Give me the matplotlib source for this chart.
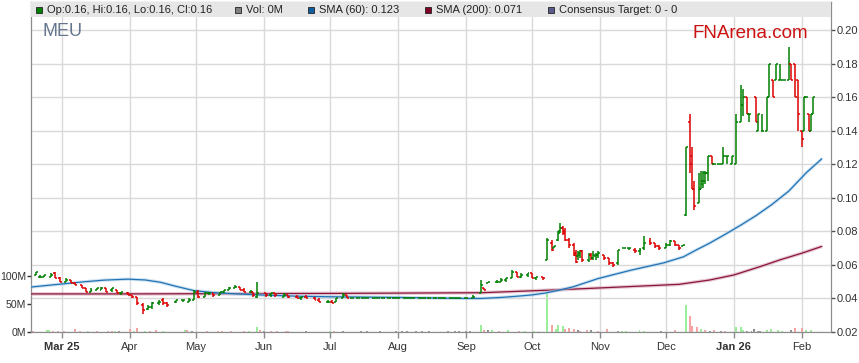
import matplotlib.pyplot as plt
import matplotlib.dates as mdates
import pandas as pd
from matplotlib.collections import LineCollection
from matplotlib.patches import Rectangle

plt.rcParams['font.family'] = ['Liberation Sans', 'DejaVu Sans']

# daily price bars (A$)
dates = [
    '2025-02-17', '2025-02-19', '2025-02-21', '2025-02-24', '2025-02-26', '2025-02-28',
    '2025-03-03', '2025-03-05', '2025-03-07', '2025-03-10', '2025-03-12', '2025-03-14',
    '2025-03-17', '2025-03-19', '2025-03-21', '2025-03-24', '2025-03-26', '2025-03-28',
    '2025-03-31', '2025-04-02', '2025-04-04', '2025-04-07', '2025-04-09', '2025-04-11',
    '2025-04-14', '2025-04-16', '2025-04-18', '2025-04-22', '2025-04-25', '2025-04-28',
    '2025-04-30', '2025-05-02', '2025-05-05', '2025-05-07', '2025-05-09', '2025-05-12',
    '2025-05-14', '2025-05-16', '2025-05-19', '2025-05-21', '2025-05-23', '2025-05-26',
    '2025-05-27', '2025-05-29', '2025-06-02', '2025-06-04', '2025-06-06', '2025-06-10',
    '2025-06-12', '2025-06-16', '2025-06-18', '2025-06-20', '2025-06-24', '2025-06-26',
    '2025-06-30', '2025-07-02', '2025-07-04', '2025-07-07', '2025-07-09', '2025-07-11',
    '2025-07-14', '2025-07-16', '2025-07-18', '2025-07-21', '2025-07-23', '2025-07-25',
    '2025-07-28', '2025-07-30', '2025-08-01', '2025-08-04', '2025-08-06', '2025-08-08',
    '2025-08-11', '2025-08-13', '2025-08-15', '2025-08-18', '2025-08-20', '2025-08-22',
    '2025-08-25', '2025-08-27', '2025-08-29', '2025-09-01', '2025-09-04', '2025-09-08',
    '2025-09-09', '2025-09-11', '2025-09-15', '2025-09-17', '2025-09-19', '2025-09-22',
    '2025-09-24', '2025-09-26', '2025-09-29', '2025-10-01', '2025-10-03', '2025-10-06',
    '2025-10-08', '2025-10-10', '2025-10-11', '2025-10-13', '2025-10-14', '2025-10-15',
    '2025-10-16', '2025-10-18', '2025-10-20', '2025-10-21', '2025-10-22', '2025-10-23',
    '2025-10-24', '2025-10-27', '2025-10-28', '2025-10-29', '2025-10-30', '2025-10-31',
    '2025-11-03', '2025-11-05', '2025-11-07', '2025-11-09', '2025-11-12', '2025-11-14',
    '2025-11-17', '2025-11-19', '2025-11-21', '2025-11-24', '2025-11-26', '2025-11-28',
    '2025-12-01', '2025-12-03', '2025-12-05', '2025-12-07', '2025-12-09', '2025-12-10',
    '2025-12-12', '2025-12-13', '2025-12-14', '2025-12-16', '2025-12-17', '2025-12-18',
    '2025-12-19', '2025-12-20', '2025-12-22', '2025-12-23', '2025-12-25', '2025-12-27',
    '2025-12-29', '2025-12-31', '2026-01-02', '2026-01-04', '2026-01-05', '2026-01-07',
    '2026-01-08', '2026-01-11', '2026-01-12', '2026-01-14', '2026-01-16', '2026-01-17',
    '2026-01-19', '2026-01-20', '2026-01-22', '2026-01-24', '2026-01-26', '2026-01-27',
    '2026-01-29', '2026-01-30', '2026-02-01', '2026-02-02', '2026-02-03', '2026-02-04',
    '2026-02-05', '2026-02-06',
]
opens = [
    .054, .053, .053, .053, .055, .052, .050, .051, .049, .048, .046, .044,
    .045, .045, .046, .045, .045, .043, .043, .042, .041, .036, .034, .035,
    .037, .039, .037, .038, .039, .038, .039, .044, .041, .043, .043, .042,
    .044, .045, .046, .047, .045, .044, .044, .041, .043, .042, .043, .041,
    .042, .041, .040, .041, .040, .039, .038, .038, .038, .040, .042, .040,
    .040, .040, .040, .040, .040, .040, .040, .040, .040, .040, .040, .040,
    .040, .040, .040, .040, .040, .040, .040, .040, .040, .040, .040, .043,
    .046, .049, .050, .050, .051, .052, .056, .053, .054, .055, .052, .053,
    .063, .073, .070, .075, .080, .082, .080, .075, .072, .067, .065, .066,
    .068, .063, .066, .064, .065, .066, .066, .064, .061, .061, .070, .070,
    .069, .068, .070, .074, .073, .071, .070, .072, .074, .072, .071, .090,
    .145, .125, .105, .097, .105, .108, .110, .115, .125, .120, .120, .120,
    .125, .120, .120, .145, .155, .160, .150, .160, .140, .140, .140, .160,
    .170, .170, .170, .170, .170, .180, .180, .170, .140, .140, .160, .150,
    .140, .150,
]
highs = [
    .056, .054, .054, .055, .056, .053, .052, .051, .050, .048, .046, .046,
    .046, .047, .046, .046, .045, .044, .044, .042, .041, .037, .036, .038,
    .039, .040, .038, .039, .039, .040, .045, .045, .044, .044, .043, .044,
    .045, .047, .048, .047, .046, .045, .044, .050, .043, .043, .043, .043,
    .042, .042, .041, .042, .041, .040, .039, .039, .040, .043, .042, .040,
    .040, .040, .040, .040, .040, .040, .040, .040, .040, .040, .040, .040,
    .040, .040, .040, .040, .040, .040, .040, .040, .040, .040, .042, .051,
    .046, .050, .051, .052, .052, .057, .056, .055, .055, .055, .053, .053,
    .076, .075, .071, .080, .085, .083, .082, .076, .073, .069, .068, .069,
    .069, .067, .067, .068, .067, .068, .066, .064, .062, .069, .070, .070,
    .070, .070, .077, .076, .073, .072, .073, .075, .074, .072, .072, .130,
    .150, .130, .110, .115, .116, .116, .116, .125, .125, .120, .120, .130,
    .125, .125, .150, .167, .165, .160, .150, .160, .150, .150, .160, .180,
    .170, .180, .180, .170, .190, .180, .180, .170, .140, .160, .160, .150,
    .150, .160,
]
lows = [
    .054, .052, .053, .053, .052, .050, .050, .049, .048, .046, .044, .044,
    .045, .045, .044, .044, .043, .042, .042, .040, .036, .031, .033, .034,
    .036, .036, .035, .037, .038, .038, .039, .040, .041, .042, .041, .042,
    .043, .045, .046, .045, .044, .043, .041, .040, .041, .041, .041, .041,
    .040, .040, .039, .040, .039, .038, .037, .037, .038, .040, .040, .040,
    .040, .040, .040, .040, .040, .040, .040, .040, .040, .040, .040, .040,
    .040, .040, .040, .040, .040, .040, .040, .040, .040, .040, .040, .043,
    .045, .049, .049, .050, .050, .052, .053, .052, .053, .052, .051, .051,
    .063, .068, .070, .074, .079, .078, .074, .070, .065, .061, .063, .064,
    .062, .062, .063, .063, .063, .064, .063, .060, .059, .060, .070, .069,
    .067, .066, .069, .072, .070, .069, .070, .071, .071, .069, .071, .089,
    .115, .105, .093, .097, .105, .106, .108, .110, .120, .120, .120, .120,
    .120, .120, .120, .145, .149, .150, .145, .145, .140, .140, .140, .160,
    .160, .170, .170, .170, .170, .170, .160, .140, .130, .140, .160, .140,
    .140, .150,
]
closes = [
    .056, .053, .054, .054, .052, .050, .051, .049, .048, .046, .044, .045,
    .046, .046, .044, .046, .043, .044, .042, .041, .037, .033, .035, .037,
    .038, .037, .036, .039, .039, .039, .044, .041, .043, .043, .042, .044,
    .045, .046, .047, .045, .044, .044, .042, .043, .042, .043, .042, .042,
    .041, .040, .041, .040, .039, .038, .038, .037, .040, .042, .040, .040,
    .040, .040, .040, .040, .040, .040, .040, .040, .040, .040, .040, .040,
    .040, .040, .040, .040, .040, .040, .040, .040, .040, .040, .041, .048,
    .045, .050, .050, .051, .052, .056, .053, .054, .055, .052, .053, .052,
    .075, .069, .071, .079, .082, .079, .075, .072, .066, .062, .067, .068,
    .063, .066, .064, .066, .066, .067, .064, .061, .060, .069, .070, .070,
    .068, .069, .073, .073, .071, .070, .072, .074, .072, .070, .072, .130,
    .120, .105, .095, .105, .110, .115, .115, .125, .120, .120, .120, .125,
    .125, .125, .145, .155, .160, .150, .150, .145, .150, .140, .160, .180,
    .160, .180, .170, .170, .180, .170, .160, .150, .135, .160, .160, .140,
    .150, .160,
]

# traded volume (millions) and direction of the day (u up, d down, n none)
vol_dates = [
    '2025-02-16', '2025-02-22', '2025-02-23', '2025-02-25', '2025-02-27', '2025-03-02',
    '2025-03-07', '2025-03-09', '2025-03-13', '2025-03-17', '2025-03-22', '2025-03-24',
    '2025-03-25', '2025-03-27', '2025-04-01', '2025-04-03', '2025-04-04', '2025-04-08',
    '2025-04-10', '2025-04-13', '2025-04-16', '2025-04-26', '2025-04-27', '2025-04-29',
    '2025-05-06', '2025-05-11', '2025-05-13', '2025-05-17', '2025-05-23', '2025-05-25',
    '2025-05-29', '2025-05-30', '2025-06-01', '2025-06-04', '2025-06-07', '2025-06-11',
    '2025-06-12', '2025-06-20', '2025-07-01', '2025-07-03', '2025-07-07', '2025-07-15',
    '2025-07-18', '2025-07-24', '2025-07-31', '2025-08-03', '2025-08-05', '2025-08-09',
    '2025-08-12', '2025-08-15', '2025-08-24', '2025-08-27', '2025-08-29', '2025-09-01',
    '2025-09-03', '2025-09-08', '2025-09-09', '2025-09-11', '2025-09-13', '2025-09-16',
    '2025-09-20', '2025-09-25', '2025-09-28', '2025-10-02', '2025-10-04', '2025-10-08',
    '2025-10-10', '2025-10-12', '2025-10-13', '2025-10-15', '2025-10-16', '2025-10-18',
    '2025-10-20', '2025-10-22', '2025-10-23', '2025-10-26', '2025-10-28', '2025-10-31',
    '2025-11-04', '2025-11-09', '2025-11-11', '2025-11-13', '2025-11-19', '2025-11-21',
    '2025-11-29', '2025-12-05', '2025-12-10', '2025-12-12', '2025-12-13', '2025-12-15',
    '2025-12-17', '2025-12-19', '2025-12-21', '2025-12-23', '2025-12-26', '2025-12-28',
    '2026-01-02', '2026-01-04', '2026-01-05', '2026-01-07', '2026-01-09', '2026-01-10',
    '2026-01-12', '2026-01-13', '2026-01-16', '2026-01-18', '2026-01-21', '2026-01-23',
    '2026-01-27', '2026-01-29', '2026-02-01', '2026-02-03', '2026-02-05',
]
volumes = [
    1.8, 3.6, 3.6, 2.5, 1.8, 1.8, 5.4, 2.5, 1.8, 1.8, 1.8, 1.8,
    2.5, 1.8, 5.4, 1.8, 6.3, 1.8, 1.8, 3.6, 1.8, 3.6, 2.7, 1.8,
    1.8, 1.8, 1.8, 1.8, 1.8, 1.8, 9.0, 2.7, 1.8, 1.8, 1.8, 1.8,
    1.8, 1.8, 1.8, 1.8, 1.8, 1.8, 1.8, 1.8, 1.8, 1.8, 1.8, 1.8,
    1.8, 1.8, 1.8, 1.8, 1.8, 1.8, 1.8, 12.5, 2.7, 2.7, 2.7, 1.8,
    3.6, 1.8, 1.8, 1.8, 1.8, 68.0, 12.5, 5.4, 12.5, 10.7, 5.4, 7.0,
    5.4, 2.7, 1.8, 2.7, 2.7, 1.8, 5.4, 1.8, 1.8, 1.8, 3.6, 1.8,
    1.8, 3.6, 48.0, 29.0, 10.7, 9.0, 5.4, 3.6, 1.8, 3.6, 1.8, 1.8,
    9.0, 9.0, 3.6, 1.8, 1.8, 5.4, 1.8, 1.8, 3.6, 5.4, 3.6, 1.8,
    3.6, 7.0, 7.0, 3.6, 2.7,
]
vol_dir = [
    'd', 'u', 'u', 'd', 'd', 'd', 'd', 'd', 'u', 'd', 'd', 'd',
    'u', 'n', 'd', 'u', 'd', 'u', 'd', 'd', 'u', 'u', 'd', 'n',
    'd', 'd', 'd', 'd', 'd', 'u', 'u', 'd', 'n', 'd', 'd', 'd',
    'd', 'n', 'u', 'd', 'n', 'n', 'n', 'n', 'n', 'n', 'n', 'n',
    'n', 'n', 'n', 'n', 'n', 'n', 'n', 'u', 'd', 'n', 'u', 'd',
    'u', 'd', 'u', 'u', 'u', 'u', 'd', 'u', 'u', 'u', 'd', 'd',
    'd', 'n', 'd', 'd', 'n', 'd', 'd', 'n', 'u', 'u', 'u', 'u',
    'n', 'd', 'u', 'd', 'd', 'd', 'u', 'd', 'n', 'd', 'n', 'd',
    'u', 'u', 'u', 'n', 'n', 'n', 'n', 'n', 'u', 'u', 'u', 'u',
    'n', 'd', 'd', 'u', 'u',
]

# moving averages
sma60_dates = [
    '2025-02-15', '2025-02-28', '2025-03-10', '2025-03-20', '2025-03-31', '2025-04-08',
    '2025-04-15', '2025-04-22', '2025-04-30', '2025-05-08', '2025-05-18', '2025-05-30',
    '2025-06-17', '2025-07-01', '2025-08-02', '2025-08-31', '2025-09-08', '2025-09-17',
    '2025-09-25', '2025-10-01', '2025-10-07', '2025-10-13', '2025-10-20', '2025-10-31',
    '2025-11-15', '2025-11-30', '2025-12-09', '2025-12-15', '2025-12-21', '2025-12-28',
    '2026-01-04', '2026-01-11', '2026-01-18', '2026-01-26', '2026-02-03', '2026-02-10',
]
sma60 = [
    .0468, .0485, .0498, .0509, .0515, .0510, .0496, .0472, .0447, .0436, .0428, .0421,
    .0413, .0410, .0406, .0400, .0400, .0406, .0414, .0421, .0432, .0448, .0470, .0518,
    .0568, .0612, .0648, .0690, .0730, .0782, .0836, .0893, .0957, .1040, .1150, .1232,
]
sma200_dates = [
    '2025-02-15', '2025-04-01', '2025-07-01', '2025-09-08', '2025-10-10', '2025-10-31',
    '2025-12-07', '2025-12-21', '2026-01-01', '2026-01-13', '2026-01-22', '2026-02-01',
    '2026-02-10',
]
sma200 = [.0427, .0427, .0430, .0434, .0450, .0462, .0484, .0510, .0540, .0590, .0630, .0670, .0710]

month_ticks = ['2025-03-01', '2025-04-01', '2025-05-01', '2025-06-01', '2025-07-01', '2025-08-01',
               '2025-09-01', '2025-10-01', '2025-11-01', '2025-12-01', '2026-01-01', '2026-02-01']
month_labels = ['Mar 25', 'Apr', 'May', 'Jun', 'Jul', 'Aug', 'Sep', 'Oct', 'Nov', 'Dec', 'Jan 26', 'Feb']
price_ticks = [0.02, 0.04, 0.06, 0.08, 0.10, 0.12, 0.14, 0.16, 0.18, 0.20]
vol_ticks = [0, 50, 100]

GREEN, RED = '#008000', '#dd0000'
vol_colours = {'u': '#99ee99', 'd': '#f5a3a3', 'n': '#8a8a8a'}

W, H = 859, 363
fig = plt.figure(figsize=(W / 100, H / 100), dpi=100)
ax = fig.add_axes([31 / W, 1 - 332 / H, 800 / W, 330 / H])
axp = ax.twinx()
ax.set_zorder(0)
axp.set_zorder(1)

xlim = (mdates.date2num(pd.Timestamp('2025-03-01')) - 14.1,
        mdates.date2num(pd.Timestamp('2026-02-01')) + 13.2)

# volume on the left scale
vx = mdates.date2num(pd.to_datetime(vol_dates))
ax.bar(vx, volumes, width=0.9, color=[vol_colours[d] for d in vol_dir], zorder=2)
ax.set_ylim(0, 330 / 28 * 50)
ax.set_yticks(vol_ticks)
ax.set_yticklabels([f'{v}M' for v in vol_ticks])
ax.set_xlim(xlim)

# OHLC bars on the right scale
px = mdates.date2num(pd.to_datetime(dates))
tick = 0.9
cols = [GREEN if c >= o else RED for o, c in zip(opens, closes)]
segs = []
segcols = []
for xi, o, h, l, c, col in zip(px, opens, highs, lows, closes, cols):
    segs += [[(xi, l), (xi, h)], [(xi - tick, o), (xi, o)], [(xi, c), (xi + tick, c)]]
    segcols += [col] * 3
axp.add_collection(LineCollection(segs, colors=segcols, linewidths=1.1, zorder=4))

s60x = mdates.date2num(pd.to_datetime(sma60_dates))
s200x = mdates.date2num(pd.to_datetime(sma200_dates))
axp.plot(s200x, sma200, color='#d4a0b2', lw=2.6, alpha=0.55, zorder=3, solid_capstyle='butt')
axp.plot(s200x, sma200, color='#8a1538', lw=0.9, zorder=3)
axp.plot(s60x, sma60, color='#a5cbe6', lw=2.4, alpha=0.55, zorder=3, solid_capstyle='butt')
axp.plot(s60x, sma60, color='#2273b5', lw=0.9, zorder=3)

axp.set_ylim(0.02, 0.02 + 330 / 1678)
axp.set_xlim(xlim)
axp.set_yticks(price_ticks)
axp.set_yticklabels([f'{p:.2f}' for p in price_ticks])
axp.grid(axis='y', color='#d9d9d9', lw=1, zorder=0)
axp.set_axisbelow(True)

ax.set_xticks(mdates.date2num(pd.to_datetime(month_ticks)))
ax.set_xticklabels(month_labels)
for lab in ax.get_xticklabels():
    if ' ' in lab.get_text():
        lab.set_fontweight('bold')
ax.grid(axis='x', color='#d9d9d9', lw=1, zorder=0)
ax.set_axisbelow(True)

for a in (ax, axp):
    for sp in a.spines.values():
        sp.set_color('#8c8c8c')
ax.spines['left'].set_color('#555555')
ax.tick_params(axis='y', length=3, width=1, pad=0.5, labelsize=7.6, colors='#333333')
ax.tick_params(axis='x', length=4, width=1, pad=3, labelsize=8, colors='#333333', color='#8c8c8c')
axp.tick_params(axis='y', length=3, width=1, pad=1, labelsize=8, colors='#333333', color='#555555')

# header band with legend
axp.add_patch(Rectangle((0, 1 - 15 / 330), 1, 15 / 330, transform=axp.transAxes,
                        facecolor='#e6e6e6', edgecolor='none', zorder=6))
legend_items = [
    (GREEN, 'Op:0.16, Hi:0.16, Lo:0.16, Cl:0.16', 36),
    ('#808080', 'Vol: 0M', 235),
    ('#0f5fa0', 'SMA (60): 0.123', 308),
    ('#800028', 'SMA (200): 0.071', 425),
    ('#5c5c8c', 'Consensus Target: 0 - 0', 548),
]
for colour, label, x0 in legend_items:
    fig.patches.append(Rectangle((x0 / W, 1 - 13 / H), 6 / W, 6 / H, transform=fig.transFigure,
                                 facecolor=colour, edgecolor='#222222', lw=0.6))
    fig.text((x0 + 11) / W, 1 - 10 / H, label, fontsize=8, color='#222222', va='center')

fig.text(42 / W, 1 - 31 / H, 'MEU', fontsize=13, color='#64768e', va='center')
fig.text(750 / W, 1 - 33 / H, 'FNArena.com', fontsize=13.5, color='#cc1111', va='center', ha='center')

fig.savefig('out.png', dpi=100)
